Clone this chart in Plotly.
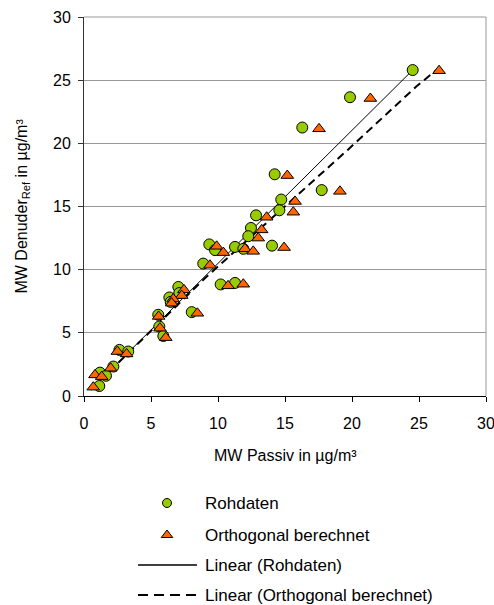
import plotly.graph_objects as go

# ---- data ----
roh_x = [24.53, 19.85, 16.29, 14.23, 17.74, 14.72, 14.58, 12.84, 12.46, 12.26,
         9.35, 9.78, 11.27, 11.89, 14.03, 8.90, 10.20, 11.27, 7.04, 7.11,
         6.37, 6.47, 5.54, 5.62, 5.92, 8.04, 2.64, 3.30, 2.19, 1.19, 1.64, 1.14]
roh_y = [25.80, 23.65, 21.25, 17.55, 16.30, 15.55, 14.70, 14.30, 13.30, 12.65,
         12.00, 11.55, 11.80, 11.65, 11.90, 10.48, 8.83, 8.95, 8.63, 8.15,
         7.80, 7.45, 6.43, 5.50, 4.75, 6.64, 3.65, 3.52, 2.33, 1.85, 1.60, 0.79]

orth_x = [26.50, 21.37, 17.54, 15.17, 19.10, 15.75, 15.62, 13.63, 13.26, 13.00,
          9.90, 10.40, 12.01, 12.63, 14.93, 9.40, 10.75, 11.89, 7.46, 7.29,
          6.66, 6.54, 5.57, 5.67, 6.10, 8.46, 2.49, 3.18, 1.99, 0.82, 1.32, 0.69]
orth_y = [25.75, 23.55, 21.15, 17.45, 16.20, 15.40, 14.55, 14.15, 13.15, 12.50,
          11.85, 11.35, 11.65, 11.45, 11.75, 10.35, 8.72, 8.85, 8.40, 7.95,
          7.68, 7.35, 6.30, 5.37, 4.62, 6.55, 3.52, 3.33, 2.20, 1.67, 1.53, 0.70]

trend_roh_x = [0.6, 24.53]
trend_roh_y = [0.6, 25.80]
trend_orth_x = [0.5, 9.0, 19.7, 24.8, 26.3]
trend_orth_y = [0.5, 9.3, 19.5, 24.5, 25.8]

x_ticks = [0, 5, 10, 15, 20, 25, 30]
y_ticks = [0, 5, 10, 15, 20, 25, 30]

legend_names = ["Rohdaten", "Orthogonal berechnet",
                "Linear (Rohdaten)", "Linear (Orthogonal berechnet)"]

GREEN = "#99CC00"
ORANGE = "#FF6600"
FONT = "Liberation Sans, Arial, sans-serif"
W, H = 494, 605
L, R, T, B = 84, 486, 17, 396

fig = go.Figure()

fig.add_trace(go.Scatter(x=trend_roh_x, y=trend_roh_y, mode="lines",
                         line=dict(color="black", width=1), showlegend=False,
                         hoverinfo="skip"))
fig.add_trace(go.Scatter(x=trend_orth_x, y=trend_orth_y, mode="lines",
                         line=dict(color="black", width=2, dash="8px,5px"),
                         showlegend=False, hoverinfo="skip"))
fig.add_trace(go.Scatter(x=roh_x, y=roh_y, mode="markers", name=legend_names[0],
                         marker=dict(symbol="circle", size=11, color=GREEN,
                                     line=dict(color="black", width=1)),
                         showlegend=False))
fig.add_trace(go.Scatter(x=orth_x, y=orth_y, mode="markers", name=legend_names[1],
                         marker=dict(symbol="triangle-up", size=11, color=ORANGE,
                                     line=dict(color="black", width=1)),
                         showlegend=False))

# ---- manual legend on a pixel-scaled overlay axis ----
leg_rows = [503, 535, 565, 595]
sym_x = 167
line_x = [138, 197]
text_x = 203
fig.add_trace(go.Scatter(x=[sym_x], y=[leg_rows[0]], xaxis="x2", yaxis="y2",
                         mode="markers", showlegend=False, hoverinfo="skip",
                         marker=dict(symbol="circle", size=9, color=GREEN,
                                     line=dict(color="black", width=1))))
fig.add_trace(go.Scatter(x=[sym_x], y=[leg_rows[1]], xaxis="x2", yaxis="y2",
                         mode="markers", showlegend=False, hoverinfo="skip",
                         marker=dict(symbol="triangle-up", size=10, color=ORANGE,
                                     line=dict(color="black", width=1))))
fig.add_trace(go.Scatter(x=line_x, y=[leg_rows[2]] * 2, xaxis="x2", yaxis="y2",
                         mode="lines", showlegend=False, hoverinfo="skip",
                         line=dict(color="black", width=1.3)))
fig.add_trace(go.Scatter(x=line_x, y=[leg_rows[3]] * 2, xaxis="x2", yaxis="y2",
                         mode="lines", showlegend=False, hoverinfo="skip",
                         line=dict(color="black", width=2, dash="10px,6px")))

annotations = []
for name, yy in zip(legend_names, leg_rows):
    annotations.append(dict(x=text_x, y=yy, xref="x2", yref="y2", text=name,
                            showarrow=False, xanchor="left", yanchor="middle",
                            font=dict(family=FONT, size=17, color="black")))
# axis titles
annotations.append(dict(x=(L + R) / 2, y=455, xref="x2", yref="y2",
                        text="MW Passiv in µg/m³", showarrow=False,
                        xanchor="center", yanchor="middle",
                        font=dict(family=FONT, size=16, color="black")))
annotations.append(dict(x=22, y=(T + B) / 2, xref="x2", yref="y2",
                        text="MW Denuder<sub>Ref</sub> in µg/m³", showarrow=False,
                        textangle=-90, xanchor="center", yanchor="middle",
                        font=dict(family=FONT, size=16, color="black")))

fig.update_layout(
    width=W, height=H,
    margin=dict(l=0, r=0, t=0, b=0),
    paper_bgcolor="white", plot_bgcolor="rgba(0,0,0,0)",
    showlegend=False,
    annotations=annotations,
    xaxis=dict(domain=[L / W, R / W], range=[0, 30], tickvals=x_ticks,
               showgrid=False, zeroline=False, showline=True,
               linecolor="black", linewidth=1, ticks="outside", ticklen=5,
               tickcolor="black", ticklabelstandoff=8,
               ticklabeloverflow="allow",
               tickfont=dict(family=FONT, size=16, color="black"),
               anchor="y", automargin=False, fixedrange=True),
    yaxis=dict(domain=[1 - B / H, 1 - T / H], range=[0, 30], tickvals=y_ticks,
               showgrid=True, gridcolor="#999999", gridwidth=1,
               zeroline=False, showline=True, linecolor="#333333", linewidth=1,
               ticks="outside", ticklen=5, tickcolor="#333333",
               ticklabelstandoff=4, ticklabeloverflow="allow",
               tickfont=dict(family=FONT, size=16, color="black"),
               anchor="x", automargin=False, fixedrange=True),
    xaxis2=dict(domain=[0, 1], range=[0, W], visible=False, anchor="y2",
                fixedrange=True),
    yaxis2=dict(domain=[0, 1], range=[H, 0], visible=False, anchor="x2",
                fixedrange=True),
    shapes=[dict(type="line", xref="x domain", yref="y domain",
                 x0=1, x1=1, y0=0, y1=1, line=dict(color="#999999", width=1),
                 layer="below"),
            dict(type="line", xref="x domain", yref="y domain",
                 x0=0, x1=1, y0=1, y1=1, line=dict(color="#999999", width=1),
                 layer="below")],
)

fig.write_html("out.html")
